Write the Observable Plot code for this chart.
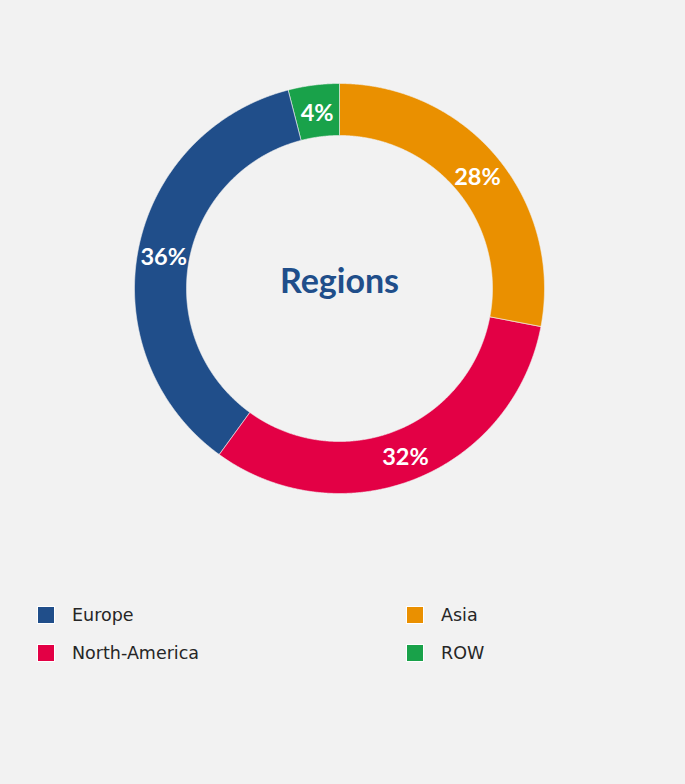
<!DOCTYPE html>
<html>
<head>
<meta charset="utf-8">
<script src="https://cdn.jsdelivr.net/npm/d3@7"></script>
<script src="https://cdn.jsdelivr.net/npm/@observablehq/plot@0.6"></script>
<style>
  html, body { margin: 0; padding: 0; background: #f2f2f2; }
  #wrap { position: relative; width: 685px; height: 784px; background: #f2f2f2; overflow: hidden; }
  #chart { position: absolute; left: 0; top: 0; }
  .legend { position: absolute; left: 0; top: 0; width: 685px; font-family: "DejaVu Sans", sans-serif; font-size: 17.5px; color: #262626; }
  .item { position: absolute; display: flex; align-items: center; }
  .sw { width: 16px; height: 16px; border: 1px solid #fff; margin-right: 17px; box-sizing: content-box; }
</style>
</head>
<body>
<div id="wrap">
  <div id="chart"></div>
  <div class="legend" id="legend"></div>
</div>
<script>
// Data (clockwise from top)
const regions = ["Asia", "North-America", "Europe", "ROW"];
const shares = [28, 32, 36, 4];
const colors = ["#EA9000", "#E30045", "#204E8A", "#19A24A"];
const legendOrder = ["Europe", "Asia", "North-America", "ROW"];
const title = "Regions";

// geometry constants (layout)
const cx = 339, cy = 288, rOuter = 205, rInner = 153;
const k = rOuter / (Math.PI / 2); // px per radian of colatitude
const latFor = r => 90 - (r / k) * 180 / Math.PI;
const latOuter = latFor(rOuter), latInner = latFor(rInner), latLabel = latFor((rOuter + rInner) / 2);
const lonFor = theta => 180 - theta; // theta: degrees clockwise from top

const total = d3.sum(shares);
let acc = 0;
const slices = regions.map((name, i) => {
  const a0 = acc / total * 360;
  acc += shares[i];
  const a1 = acc / total * 360;
  return {name, value: shares[i], a0, a1, mid: (a0 + a1) / 2};
});

function ring(s) {
  const pts = [];
  const step = 0.25;
  for (let t = s.a0; t <= s.a1 + 1e-9; t += step) pts.push([lonFor(t), latOuter]);
  pts.push([lonFor(s.a1), latOuter]);
  for (let t = s.a1; t >= s.a0 - 1e-9; t -= step) pts.push([lonFor(t), latInner]);
  pts.push([lonFor(s.a0), latInner]);
  pts.push(pts[0]);
  let f = {type: "Feature", properties: {name: s.name}, geometry: {type: "Polygon", coordinates: [pts]}};
  if (d3.geoArea(f) > 2 * Math.PI) f.geometry.coordinates = [pts.slice().reverse()];
  return f;
}
const features = slices.map(ring);

const projection = d3.geoAzimuthalEquidistant()
  .rotate([0, -90])
  .scale(k)
  .translate([cx, cy])
  .clipAngle(170);

const plot = Plot.plot({
  width: 685,
  height: 560,
  margin: 0,
  style: {background: "transparent", overflow: "visible"},
  projection,
  color: {domain: regions, range: colors},
  marks: [
    Plot.geo(features, {fill: d => d.properties.name, stroke: "#f2f2f2", strokeWidth: 0.6}),
    Plot.text(slices, {
      x: d => lonFor(d.mid), y: latLabel,
      text: d => d.value + "%", dy: 3,
      fill: "white", fontWeight: "bold", fontSize: 23.5,
      fontFamily: "Lato, 'Open Sans', sans-serif"
    }),
    Plot.text([title], {
      x: 0, y: 90, text: d => d, dy: -6,
      fill: "#204E8A", fontWeight: "bold", fontSize: 34,
      fontFamily: "Lato, 'Open Sans', sans-serif"
    })
  ]
});
document.getElementById("chart").appendChild(plot);

// legend
const pos = [[37, 605], [406, 605], [37, 643], [406, 643]];
const leg = document.getElementById("legend");
legendOrder.forEach((name, i) => {
  const el = document.createElement("div");
  el.className = "item";
  el.style.left = pos[i][0] + "px";
  el.style.top = pos[i][1] + "px";
  const sw = document.createElement("div");
  sw.className = "sw";
  sw.style.background = colors[regions.indexOf(name)];
  const tx = document.createElement("span");
  tx.textContent = name;
  el.appendChild(sw); el.appendChild(tx);
  leg.appendChild(el);
});
</script>
</body>
</html>
